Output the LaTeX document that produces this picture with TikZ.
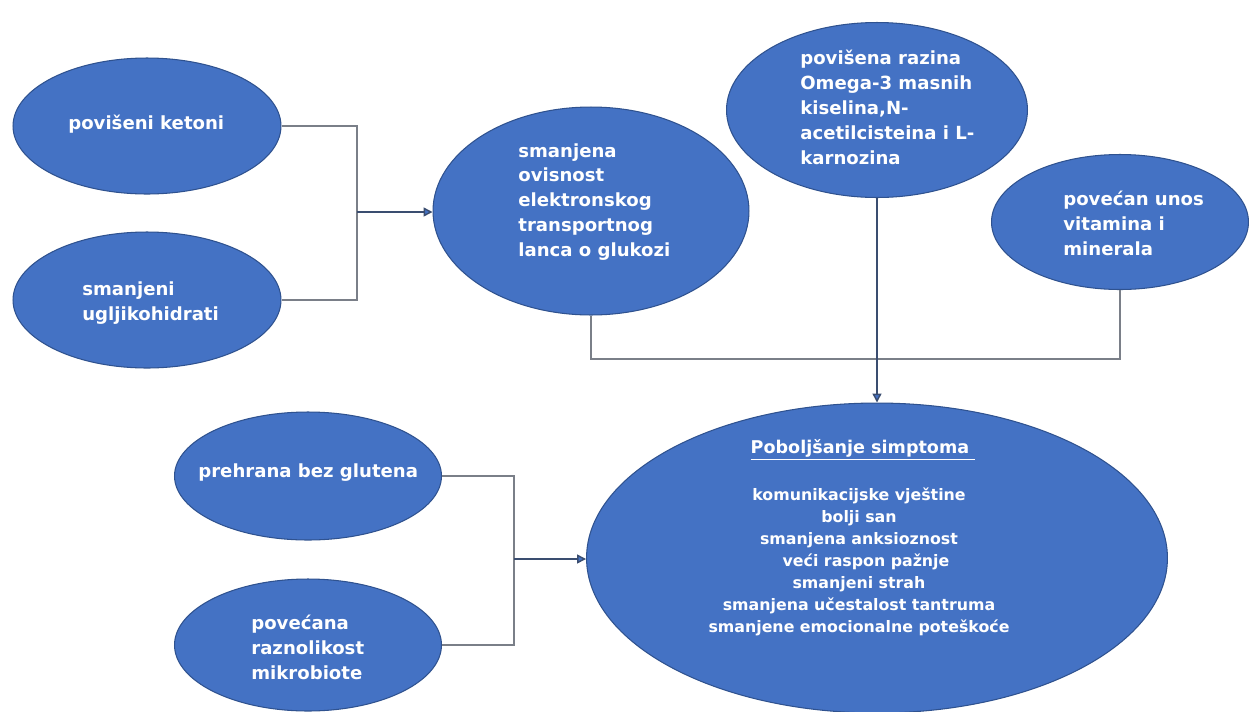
\documentclass[tikz,border=0pt]{standalone}
\usepackage{fontspec}
\setmainfont{DejaVu Sans}
\usetikzlibrary{shapes.geometric,arrows.meta}

\definecolor{bubblefill}{HTML}{4472C4}
\definecolor{bubbleline}{HTML}{2F528F}
\definecolor{linkgray}{HTML}{7A7F88}
\definecolor{feedblue}{HTML}{3A4D70}

\tikzset{
    bubble/.style={ellipse, draw=bubbleline, fill=bubblefill, line width=0.6pt, inner sep=0pt},
    bubbletext/.style={text=white, font=\bfseries\fontsize{10.3}{14.2}\selectfont,
        align=left, inner sep=0pt, anchor=west},
    link/.style={draw=linkgray, line width=0.8pt},
    feed/.style={draw=feedblue, line width=0.8pt,
        -{Triangle[length=5pt,width=5pt,fill=bubblefill]}},
}

\begin{document}
\begin{tikzpicture}[x=0.02cm, y=-0.02cm]
        \clip (0, 0) rectangle (1249, 711);
        \fill[white] (0, 0) rectangle (1249, 711);

        % ellipses
        \node[bubble, minimum width=5.36cm, minimum height=2.72cm] (ketoni) at (147, 126) {};
        \node[bubble, minimum width=5.36cm, minimum height=2.72cm] (ugh) at (147, 300) {};
        \node[bubble, minimum width=6.32cm, minimum height=4.16cm] (ovis) at (591, 211) {};
        \node[bubble, minimum width=6.02cm, minimum height=3.5cm] (omega) at (877, 110) {};
        \node[bubble, minimum width=5.14cm, minimum height=2.7cm] (vitamin) at (1120, 222) {};
        \node[bubble, minimum width=5.34cm, minimum height=2.56cm] (gluten) at (308, 476) {};
        \node[bubble, minimum width=5.34cm, minimum height=2.64cm] (mikro) at (308, 645) {};
        \node[bubble, minimum width=11.62cm, minimum height=6.2cm] (simpt) at (877, 558) {};

        % texts
        \node[bubbletext] (ketoniT) at (68, 124) {povišeni ketoni};
        \node[bubbletext] (ughT) at (82, 303) {smanjeni\\ugljikohidrati};
        \node[bubbletext] (ovisT) at (518, 202) {smanjena\\ovisnost\\elektronskog\\transportnog\\lanca o glukozi};
        \node[bubbletext] (omegaT) at (800, 107) {povišena razina\\Omega-3 masnih\\kiselina,N-\\acetilcisteina i L-\\karnozina};
        \node[bubbletext] (vitaminT) at (1063, 223) {povećan unos\\vitamina i\\minerala};
        \node[bubbletext] (glutenT) at (198, 473) {prehrana bez glutena};
        \node[bubbletext] (mikroT) at (251, 647) {povećana\\raznolikost\\mikrobiote};
        \node[bubbletext, anchor=center, font=\bfseries\fontsize{10}{12}\selectfont] (simptT) at (863, 450)
            {\underline{Poboljšanje simptoma\ }};
        \node[bubbletext, anchor=center, align=center, font=\bfseries\fontsize{9}{12.5}\selectfont] (simptL) at (859, 562) {
            komunikacijske vještine\\
            bolji san\hspace*{0.52cm}\\
            smanjena anksioznost\\
            \hspace*{0.28cm}veći raspon pažnje\\
            smanjeni strah\\
            smanjena učestalost tantruma\\
            smanjene emocionalne poteškoće
        };

        % connectors
        \coordinate (j1) at (357, 212);
        \coordinate (j2) at (514, 559);
        \coordinate (j3) at (877, 359);
        \draw[link] (ketoni.east) -| (j1) |- (ugh.east);
        \draw[feed] (j1) -- (ovis.west |- j1);
        \draw[link] (gluten.east) -| (j2) |- (mikro.east);
        \draw[feed] (j2) -- (simpt.west |- j2);
        \draw[link] (ovis.south) |- (j3) -| (vitamin.south);
        \draw[feed] (omega.south) -- (simpt.north);
    \end{tikzpicture}
\end{document}
